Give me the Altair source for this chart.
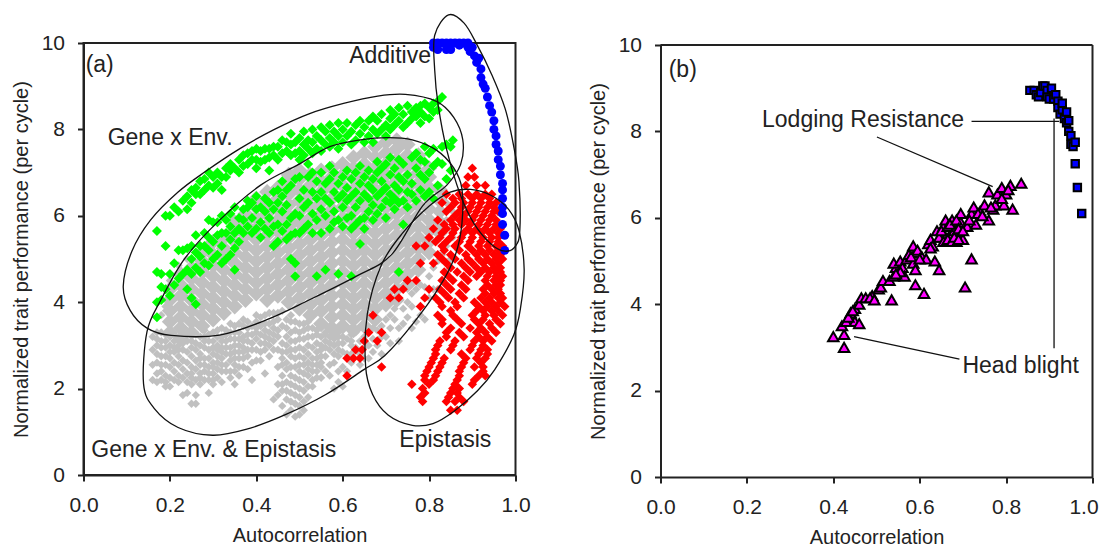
import altair as alt
import pandas as pd

# ---------- panel (a) : outlines ----------
GXE_X = [.092,.112,.155,.219,.283,.363,.442,.522,.602,.681,.745,.817,.857,.878,.873,.841,.785,.713,.633,.522,.426,.315,.203,.147,.108]
GXE_Y = [4.37,5.18,5.90,6.55,7.03,7.56,8.0,8.36,8.6,8.77,8.81,8.65,8.28,7.76,7.19,6.71,6.23,5.1,4.61,4.05,3.6,3.24,3.23,3.4,3.81]
GXEEP_X = [.139,.147,.179,.235,.315,.410,.498,.570,.641,.705,.761,.817,.857,.876,.876,.861,.825,.761,.697,.649,.562,.466,.378,.299,.219,.163]
GXEEP_Y = [2.11,3.32,4.05,5.02,5.90,6.71,7.19,7.6,7.76,7.81,7.76,7.52,7.11,6.63,5.82,5.10,4.37,3.48,2.76,2.44,1.87,1.39,1.06,.92,1.1,1.55]
EPI_X = [.653,.657,.689,.737,.801,.849,.896,.944,.984,1.008,1.02,1.012,.996,.952,.912,.857,.809,.761,.705,.669]
EPI_Y = [2.52,3.73,4.85,5.58,6.23,6.55,6.61,6.47,6.15,5.66,4.77,3.89,3.24,2.44,1.95,1.47,1.19,1.15,1.39,1.87]
ADD_X = [.845,.813,.813,.821,.841,.873,.904,.944,.976,1.0,1.01,1.008,.996,.976,.944,.912,.881]
ADD_Y = [10.65,10.18,9.37,8.56,7.52,6.47,5.82,5.34,5.18,5.30,5.66,6.79,7.6,8.48,9.29,9.94,10.46]

# ---------- panel (a) : points, one list of y per x column ----------
GRAY_CORE = {
 .20:[3.3,3.55,3.8,4.05,4.3],
 .225:[3.15,3.4,3.65,3.9,4.15,4.4,4.65],
 .25:[3.3,3.55,3.8,4.05,4.3,4.55,4.8],
 .275:[3.45,3.7,3.95,4.2,4.45,4.7,4.95,5.15],
 .30:[3.6,3.85,4.1,4.35,4.6,4.85,5.1,5.4],
 .325:[3.75,4,4.25,4.5,4.75,5,5.25,5.5],
 .35:[3.9,4.15,4.4,4.65,4.9,5.15,5.4,5.65,5.85],
 .375:[4.05,4.3,4.55,4.8,5.05,5.3,5.55,5.8,6.05],
 .40:[4.2,4.45,4.7,4.95,5.2,5.45,5.7,5.95,6.2,6.4],
 .425:[4.05,4.3,4.55,4.8,5.05,5.3,5.55,5.8,6.05,6.3,6.55],
 .45:[4.15,4.4,4.65,4.9,5.15,5.4,5.65,5.9,6.15,6.4,6.65],
 .475:[4.0,4.25,4.5,4.75,5,5.25,5.5,5.75,6,6.25,6.5,6.75,6.95],
 .50:[3.85,4.1,4.35,4.6,4.85,5.1,5.35,5.6,5.85,6.1,6.35,6.6,6.85,7.05],
 .525:[3.7,3.95,4.2,4.45,4.7,4.95,5.2,5.45,5.7,5.95,6.2,6.45,6.7,6.95],
 .55:[3.5,3.8,4.05,4.3,4.55,4.8,5.05,5.3,5.55,5.8,6.05,6.3,6.55,6.8,7.05],
 .575:[3.4,3.65,3.9,4.15,4.4,4.65,4.9,5.15,5.4,5.65,5.9,6.15,6.4,6.65,6.9,7.1],
 .60:[3.45,3.7,3.95,4.2,4.45,4.7,4.95,5.2,5.45,5.7,5.95,6.2,6.45,6.7,6.95,7.2],
 .625:[3.35,3.6,3.85,4.1,4.35,4.6,4.85,5.1,5.35,5.6,5.85,6.1,6.35,6.6,6.85,7.1,7.35],
 .65:[3.45,3.7,3.95,4.2,4.45,4.7,4.95,5.2,5.45,5.7,5.95,6.2,6.45,6.7,6.95,7.2,7.45],
 .675:[3.6,3.85,4.1,4.35,4.6,4.85,5.1,5.35,5.6,5.85,6.1,6.35,6.6,6.85,7.1,7.35,7.6],
 .70:[3.95,4.2,4.45,4.7,4.95,5.2,5.45,5.7,5.95,6.2,6.45,6.7,6.95,7.2,7.45,7.7],
 .725:[4.05,4.3,4.55,4.8,5.05,5.3,5.55,5.8,6.05,6.3,6.55,6.8,7.05,7.3,7.55,7.75],
 .75:[4.4,4.65,4.9,5.15,5.4,5.65,5.9,6.15,6.4,6.65,6.9,7.15,7.4,7.65],
 .775:[4.75,5,5.25,5.5,5.75,6,6.25,6.5,6.75,7,7.25,7.4],
 .80:[5.15,5.4,5.65,5.9,6.15,6.4,6.65,6.9,7.1],
 .825:[5.6,5.85,6.1,6.35,6.6],
}
GRAY_EDGE = {
 .16:[2.2,2.55,2.9,3.2],.17:[2.35,2.6,3.0,3.3],.18:[2.2,2.4,2.75,3.1,3.7],.19:[2.05,2.3,2.55,2.95,3.25,3.9],
 .20:[2.05,2.5,2.7,3.0,4.5],.21:[2.4,2.6,2.85,3.1],.22:[2.3,2.55,2.75,3.0,4.85],.23:[1.85,2.45,2.9,3.05],
 .24:[1.9,2.35,2.6,2.85,3.1,5.0],.25:[1.65,2.25,2.5,2.75,2.95],.26:[1.65,1.85,2.2,2.45,2.65,3.05],.27:[2.1,2.35,2.55,2.8,3.0],
 .28:[2.4,2.7,2.95,3.2],.29:[1.9,2.2,2.5,2.9,3.25],.30:[2.1,2.35,2.6,2.8,3.1],.31:[2.25,2.45,2.75,3.0,3.35],
 .32:[2.15,2.4,2.7,2.95,3.2],.33:[2.55,2.8,3.1,3.35],.34:[2.4,2.65,2.95,3.3],.35:[2.1,2.55,2.85,3.15,3.45],
 .36:[2.3,2.7,3.0,3.3],.37:[2.7,2.95,3.2,3.45],.38:[2.45,2.75,3.1,3.4],.39:[2.2,2.9,3.25],
 .40:[2.9,3.15,3.4,3.7],.41:[2.65,3.05,3.45],.42:[2.35,2.9,3.2,3.5],.43:[3.0,3.3,3.75],
 .44:[1.75,2.9,3.25,3.55],.45:[1.85,2.1,2.5,3.2,3.6],.46:[1.6,1.95,2.3,2.55,2.85],.47:[1.4,1.75,2.15,2.45,3.0,3.4],
 .48:[1.5,1.9,2.3,2.75,3.1,3.55],.49:[1.35,1.65,2.05,2.5,2.9,3.35],.50:[1.4,1.8,2.2,2.55,2.95,3.3],.51:[1.7,1.95,2.35,2.7,3.15,3.5],
 .52:[1.8,2.3,2.6,3.0,3.4],.53:[2.05,2.4,2.7,3.2],.54:[2.25,2.55,2.85,3.35],.55:[2.5,2.75,3.0],
 .56:[2.75,3.1,3.3],.57:[2.3,2.9,3.2],.58:[2.0,2.6,3.0,3.25],.59:[2.15,2.75,3.05,3.3],.60:[2.05,2.85,3.2],
 .62:[2.6,3.0,3.25],.64:[2.55,2.8,3.1],.66:[2.7,3.0,3.3],.69:[2.8,3.2,3.45],.70:[3.2,3.6],.72:[3.6,3.85],
 .73:[3.1,3.4],.74:[3.5,3.85],.76:[3.4,3.9,4.2],.77:[3.55,4.3],.78:[3.9,4.4],.79:[3.6,4.35],.80:[4.1,4.6],.82:[4.3,4.95],.84:[4.7,5.3,5.9,6.3],
 .855:[5.5,6.1,6.4],
}
GRAY_FILL = {
 .17:[2.15,2.8,3.15],.18:[2.55,2.95,3.3],.19:[2.15,2.75,3.1],.20:[2.25,2.85,3.2],.21:[2.2,2.95,3.25],.22:[2.15,2.9,3.2],
 .23:[2.25,2.65,3.25],.24:[2.15,3.25],.25:[2.1,2.35,3.1],.26:[2.9,3.25],.27:[2.25,2.7,3.2],.28:[2.2,2.55,3.1,3.35],
 .29:[2.35,2.7,3.1],.30:[2.2,2.5,2.95,3.3],.31:[2.6,2.9,3.2],.32:[2.55,2.85,3.1,3.4],.33:[2.4,2.95,3.25],.34:[2.25,2.8,3.15,3.5],
 .35:[2.4,2.7,3.0,3.3],.36:[2.5,2.85,3.15,3.5],.37:[2.5,2.85,3.1,3.6],.38:[2.9,3.25,3.55],.39:[2.6,3.05,3.45],.40:[2.65,3.3,3.55],
 .41:[2.85,3.25,3.65],.42:[3.05,3.35,3.7],.43:[2.75,3.15,3.5],.44:[3.1,3.4,3.75],.45:[2.9,3.35,3.75],.46:[2.1,2.7,3.05,3.45,3.8],
 .47:[1.95,2.6,2.85,3.2,3.6],.48:[1.7,2.1,2.5,2.9,3.3,3.7],.49:[1.85,2.25,2.7,3.1,3.55],.50:[1.6,2.0,2.4,2.75,3.15,3.5],
 .51:[1.5,2.15,2.55,2.9,3.35],.52:[2.05,2.45,2.8,3.2,3.55],.53:[2.2,2.55,2.95,3.4],.54:[2.4,2.7,3.05,3.25],.55:[2.25,2.6,2.9,3.2,3.4],
 .56:[2.4,2.95,3.25],.57:[2.55,3.05,3.35],.58:[2.8,3.15],.59:[2.4,2.9,3.2],.60:[2.5,3.05,3.35],.61:[2.4,2.8,3.15],.62:[2.8,3.1,3.4],
 .63:[2.95,3.3],.65:[2.7,2.95,3.2],.67:[2.85,3.15,3.4],.68:[3.0,3.35],.71:[3.05,3.4,3.7],.75:[3.65,4.0],.78:[3.7],.81:[4.3,4.8],
 .83:[4.5,5.1],.85:[5.0,5.7],
}
GREEN = {
 .17:[3.65,4.0,4.7,5.65],.18:[4.05,4.35,4.65],.19:[4.3,5.3,6.0],.20:[4.15,4.65,6.0],.21:[4.4,4.9,6.2],.22:[4.55,5.2,6.1],
 .23:[4.65,5.2,6.35],.24:[4.3,4.75,5.25,6.15,6.45],.25:[4.1,4.65,5.0,5.3,6.3,6.6],.26:[3.95,4.8,5.15,5.55,6.5,6.65],
 .27:[4.7,5.05,5.3,6.5,6.8],.28:[4.9,5.3,5.6,6.6,6.85],.29:[4.85,5.2,5.5,5.9,6.7,7.0],.30:[5.0,5.4,5.85,6.65,6.9],
 .31:[5.1,5.55,5.85,6.75,7.0],.32:[4.9,5.3,5.6,6.0,6.6,6.9],.33:[5.0,5.6,5.9,6.9,7.1],.34:[5.1,5.45,5.75,6.05,7.05,7.2],
 .35:[4.75,5.25,5.6,6.2,7.1],.36:[5.4,5.7,5.95,7.0,7.3],.37:[5.6,5.9,6.15,7.15,7.4],.38:[5.75,6.2,6.35,7.2,7.45],
 .39:[5.6,5.95,6.3,7.3,7.5],.40:[5.7,6.15,6.45,7.1,7.3,7.55],.41:[5.5,5.85,6.2,7.25,7.5],.42:[5.7,6.1,6.4,7.3,7.55],
 .43:[5.6,5.95,6.3,7.05,7.35,7.55],.44:[5.3,5.75,6.15,6.55,7.4,7.6],.45:[5.4,5.8,6.3,6.6,7.3,7.6],.46:[5.65,6.1,6.45,6.8,7.45,7.75],
 .47:[5.45,5.8,6.25,6.6,7.5,7.7],.48:[5.0,5.55,5.95,6.7,7.4,7.65,7.9],.49:[4.6,4.9,5.6,6.05,6.85,7.45,7.7],.50:[5.6,6.0,6.4,6.9,7.3,7.5,7.8],
 .51:[5.7,6.2,6.6,7.4,7.65,7.95],.52:[5.8,6.3,6.9,7.2,7.55,7.75],.53:[5.6,6.05,6.55,7.0,7.45,7.7,8.0],.54:[4.6,5.9,6.4,6.8,7.55,7.85],
 .55:[5.6,6.15,6.55,7.0,7.5,7.75,8.05],.56:[4.75,6.0,6.4,6.75,7.65,7.95],.57:[5.7,6.3,6.85,7.15,7.6,7.8,8.1],.58:[5.85,6.1,6.55,7.0,7.7,7.95],
 .59:[4.65,5.9,6.4,6.75,7.55,7.85,8.15],.60:[5.75,6.2,6.5,6.9,7.7,8.0],.61:[5.95,6.35,6.65,7.05,7.85,8.15],.62:[4.6,5.7,6.0,6.45,6.85,7.65,7.95],
 .63:[5.8,6.2,6.55,7.0,7.75,8.1],.64:[5.35,5.9,6.35,6.75,7.15,7.9,8.2],.65:[5.7,5.95,6.5,6.9,7.7,8.05],.66:[6.1,6.4,6.7,7.05,7.85,8.2],
 .67:[5.9,6.25,6.6,6.85,7.7,8.0,8.3],.68:[6.05,6.45,7.0,7.25,7.9,8.2],.69:[6.2,6.55,6.8,7.1,8.0,8.35],.70:[5.95,6.35,6.65,7.2,7.85,8.1],
 .71:[6.3,6.5,6.95,7.35,8.0,8.25,8.45],.72:[6.15,6.4,6.7,7.1,8.1,8.35],.73:[4.7,6.3,6.6,6.9,7.3,8.2,8.5],.74:[5.8,6.35,6.8,7.2,8.05,8.35],
 .75:[6.2,6.55,6.95,8.15,8.55],.76:[6.5,6.75,7.35,8.25,8.4],.77:[6.35,7.1,7.45,8.3,8.5],.78:[6.6,6.95,7.3,8.15,8.4,8.55],
 .79:[6.45,6.85,7.25,7.6,8.3,8.6],.80:[6.55,7.0,7.45,8.25,8.5],.81:[6.4,7.15,7.55,8.4,8.6],.82:[6.7,7.25,8.45,8.65],
 .83:[7.2,7.6,8.75],.84:[6.85,7.65],.85:[7.05,7.6],.855:[7.75],
}
# red is listed the other way round: one list of x per y row
RED = {
 7.1:[.9],6.9:[.905,.89],6.7:[.91,.885,.93],6.5:[.84,.87,.89,.91,.93,.945],6.3:[.83,.86,.88,.9,.92,.94,.955],
 6.1:[.84,.87,.89,.91,.93,.95,.96],5.9:[.82,.85,.87,.885,.9,.92,.94,.955],5.7:[.81,.84,.86,.89,.91,.93,.95,.965],
 5.5:[.8,.825,.85,.875,.9,.925,.945,.96],5.3:[.77,.79,.83,.86,.89,.915,.935,.955,.97],5.1:[.82,.85,.885,.91,.93,.95,.965],
 4.9:[.78,.81,.84,.875,.9,.925,.945,.96],4.7:[.835,.865,.895,.92,.94,.955,.965],4.5:[.75,.77,.83,.855,.89,.93,.95,.965],
 4.3:[.72,.74,.8,.825,.85,.885,.925,.945,.96],4.1:[.71,.73,.79,.815,.845,.88,.92,.94,.96,.97],3.9:[.78,.83,.865,.915,.935,.955,.975],
 3.7:[.67,.82,.855,.9,.93,.95,.97],3.5:[.83,.875,.915,.94,.965],3.3:[.66,.69,.84,.87,.91,.93,.955],3.1:[.65,.68,.825,.86,.905,.925,.945],
 2.9:[.63,.645,.815,.85,.895,.92,.935],2.7:[.61,.625,.64,.81,.835,.885,.91,.93],2.5:[.69,.8,.825,.875,.905,.925],
 2.3:[.61,.79,.815,.87,.915,.93],2.1:[.76,.8,.86,.9],1.9:[.79,.85,.865],1.7:[.785,.84,.86,.88],1.5:[.85,.865],
 6.4:[.855,.875,.9,.92,.94],6.2:[.85,.875,.895,.915,.935,.95],6.0:[.86,.88,.905,.925,.945],
 5.8:[.835,.855,.875,.895,.915,.935,.955],5.6:[.83,.855,.88,.9,.92,.94,.96],5.4:[.815,.84,.87,.895,.92,.94,.96],
 5.2:[.835,.87,.9,.92,.94,.96],5.0:[.83,.86,.89,.915,.935,.955,.97],4.8:[.85,.885,.91,.93,.95,.965],
 4.6:[.845,.88,.91,.935,.955,.97],4.4:[.84,.875,.935,.955,.965],4.2:[.835,.87,.93,.95,.965],
 4.0:[.825,.86,.905,.93,.945,.965],3.8:[.85,.91,.925,.945,.96],3.6:[.83,.865,.905,.925,.955],3.4:[.85,.895,.92,.945],
 3.2:[.84,.88,.915,.935],3.0:[.82,.855,.9,.925],2.8:[.815,.875,.915,.935],2.6:[.805,.83,.88,.92],2.4:[.795,.82,.87,.925],
 2.2:[.79,.81,.865,.905],2.0:[.785,.855,.87],1.8:[.78,.845,.87],
}
BLUE_X = [.81,.81,.82,.82,.83,.84,.84,.85,.85,.86,.87,.87,.88,.89,.89,.895,.90,.905,.91,.915,.92,.92,.925,.93,.935,.94,.945,.95,.95,.955,.955,.96,.96,.965,.965,.97,.97,.97,.97,.97,.97,.975,.975]
BLUE_Y = [9.9,10.,10.,9.85,10.,9.85,10.,10.,9.85,10.,10.,9.95,10.,10.,9.9,9.8,9.9,9.7,9.55,9.65,9.4,9.2,9.05,8.95,8.75,8.55,8.4,8.2,8.0,7.85,7.65,7.5,7.3,7.15,6.95,6.75,6.6,6.4,6.2,6.05,5.8,5.55,5.2]

# ---------- panel (b) ----------
TRI_X = [.40,.425,.425,.42,.43,.44,.45,.46,.45,.46,.465,.475,.49,.485,.495,.505,.51,.515,.53,.535,.54,.545,.54,.55,.555,.56,.565,.57,.575,.585,.59,.59,.585,.595,.59,.61,.605,.615,.62,.625,.63,.635,.645,.64,.65,.655,.66,.66,.67,.675,.68,.685,.69,.695,.695,.70,.705,.72,.71,.72,.725,.73,.74,.75,.76,.77,.775,.76,.78,.79,.795,.80,.81,.815,.835,.645,.655,.665,.675,.68,.69,.65,.665,.67,.685,.69,.70,.715,.735,.745,.765,.555,.545,.435,.445,.58,.60,.625,.79,.805]
TRI_Y = [3.25,3.3,3.0,3.5,3.6,3.8,3.6,3.55,3.9,4.0,4.15,4.15,4.2,4.15,4.1,4.35,4.4,4.55,4.55,4.1,4.65,4.85,4.95,4.7,5.0,4.85,4.65,5.05,5.15,4.95,4.8,5.2,5.35,5.25,4.45,4.25,5.1,5.05,5.4,5.5,5.35,5.0,4.8,5.7,5.55,5.8,5.55,5.95,5.6,5.95,5.7,5.45,5.55,5.9,6.1,5.5,4.4,5.05,5.8,6.1,6.25,5.85,6.15,6.3,5.95,6.2,6.3,6.6,6.55,6.7,6.3,6.55,6.75,6.2,6.8,5.55,5.45,5.5,5.45,5.55,5.5,5.7,5.8,5.85,5.95,5.75,5.7,5.95,6.1,6.05,6.25,4.75,4.7,3.7,3.85,5.1,5.05,5.3,6.45,6.65]
SQ_X = [.855,.865,.87,.875,.88,.885,.89,.895,.895,.90,.905,.91,.915,.92,.92,.925,.93,.935,.94,.94,.945,.945,.95,.95,.955,.96,.96,.965,.975,.93]
SQ_Y = [8.95,8.95,8.85,8.8,8.9,9.05,9.05,8.95,8.8,8.75,9.0,8.75,8.85,8.7,8.55,8.4,8.5,8.3,8.45,8.2,8.25,8.0,7.9,7.7,7.65,7.75,7.25,6.7,6.1,8.65]

SEG_ID = [0,0,1,1,2,2,3,3]
SEG_X = [.72,.923,.501,.769,.911,.911,.448,.692]
SEG_Y = [8.23,8.23,7.87,6.72,8.3,2.98,3.25,2.73]
FRAME_ID = [0,0,1,1]
FRAME_X = [0,1,1,1]
FRAME_Y = [10,10,10,0]

A_LABELS = ["(a)","Additive","Gene x Env.","Gene x Env. & Epistasis","Epistasis"]
A_LX = [.005,.615,.056,.018,.731]
A_LY = [9.49,9.69,7.81,.58,.81]
B_LABELS = ["(b)","Lodging Resistance","Head blight"]
B_LX = [.019,.235,.699]
B_LY = [9.42,8.27,2.56]

XTICKS = [0,.2,.4,.6,.8,1]
YTICKS = [0,2,4,6,8,10]
INK = "#222222"
FONT = "Liberation Sans"

x_a = alt.X("x:Q", scale=alt.Scale(domain=[0,1],nice=False),
            axis=alt.Axis(values=XTICKS,format=".1f",title="Autocorrelation",grid=False,labelPadding=13,labelFlush=False,labelOverlap=False))
x_b = alt.X("x:Q", scale=alt.Scale(domain=[0,1],nice=False),
            axis=alt.Axis(values=XTICKS,format=".1f",title="Autocorrelation",grid=False,labelPadding=13,labelFlush=False,labelOverlap=False,
                          labelOffset=alt.expr("datum.value == 1 ? -9 : 0")))
def y_of(scale):
    return alt.Y("y:Q", scale=scale,
              axis=alt.Axis(values=YTICKS,format="d",title="Normalized trait performance (per cycle)",grid=False,labelPadding=13,labelFlush=False,labelOverlap=False))
y_a = y_of(alt.Scale(domain=[0,10],nice=False))
y_b = y_of(alt.Scale(domain=[0,10],nice=False,range=[434,2]))

def cols(d):
    return pd.DataFrame([(k,v) for k,vs in d.items() for v in vs],columns=["x","y"])
def rows(d):
    return pd.DataFrame([(v,k) for k,vs in d.items() for v in vs],columns=["x","y"])
def pts(df,x_enc,y_enc,shape,fill,size,stroke=None,sw=0):
    return alt.Chart(df).mark_point(shape=shape,filled=True,fill=fill,size=size,opacity=1,
        stroke=stroke if stroke else fill,strokeWidth=sw,clip=False).encode(x=x_enc,y=y_enc)
def loop(xs,ys):
    df = pd.DataFrame({"x":xs,"y":ys,"i":range(len(xs))})
    return alt.Chart(df).mark_line(interpolate="cardinal-closed",color="#111111",strokeWidth=1.3,clip=False).encode(
        x=x_a,y=y_a,order="i:Q")
def labels(t,xs,ys,x_enc,y_enc):
    df = pd.DataFrame({"t":t,"x":xs,"y":ys})
    return alt.Chart(df).mark_text(align="left",baseline="middle",font=FONT,fontSize=23,color=INK).encode(
        x=x_enc,y=y_enc,text="t:N")

panel_a = alt.layer(
    pts(cols(GRAY_CORE),x_a,y_a,"diamond","#c0c0c0",260),
    pts(cols(GRAY_EDGE),x_a,y_a,"diamond","#c0c0c0",70),
    pts(cols(GRAY_FILL),x_a,y_a,"diamond","#c0c0c0",70),
    pts(cols(GREEN),x_a,y_a,"diamond","#00ff00",100),
    pts(rows(RED),x_a,y_a,"diamond","#ff0000",90),
    pts(pd.DataFrame({"x":BLUE_X,"y":BLUE_Y}),x_a,y_a,"circle","#0000ff",80),
    loop(GXE_X,GXE_Y),loop(GXEEP_X,GXEEP_Y),loop(EPI_X,EPI_Y),loop(ADD_X,ADD_Y),
    labels(A_LABELS,A_LX,A_LY,x_a,y_a),
).properties(width=432,height=432)

seg = pd.DataFrame({"s":SEG_ID,"x":SEG_X,"y":SEG_Y})
frame = pd.DataFrame({"s":FRAME_ID,"x":FRAME_X,"y":FRAME_Y})
panel_b = alt.layer(
    alt.Chart(frame).mark_line(color=INK,strokeWidth=2).encode(x=x_b,y=y_b,detail="s:N"),
    alt.Chart(seg).mark_line(color="#111111",strokeWidth=1.3).encode(x=x_b,y=y_b,detail="s:N"),
    pts(pd.DataFrame({"x":TRI_X,"y":TRI_Y}),x_b,y_b,"triangle-up","#ff00ff",110,"#000000",2),
    pts(pd.DataFrame({"x":SQ_X,"y":SQ_Y}),x_b,y_b,"square","#0000ff",55,"#000000",2),
    labels(B_LABELS,B_LX,B_LY,x_b,y_b),
).properties(width=432,height=434,view=alt.ViewConfig(stroke="transparent"))

chart = alt.hconcat(panel_a,panel_b,spacing=55,padding={"left":1.5,"top":2,"right":0,"bottom":0}).configure_view(
    stroke=INK,strokeWidth=2
).configure_axis(
    domainColor=INK,domainWidth=2,tickColor=INK,tickWidth=2,tickSize=6,
    labelFont=FONT,labelFontSize=21,labelColor=INK,
    titleFont=FONT,titleFontSize=20,titleColor=INK,titleFontWeight="normal",titlePadding=10
)

chart.save("out.html", embed_options={"renderer": "svg", "actions": False})
